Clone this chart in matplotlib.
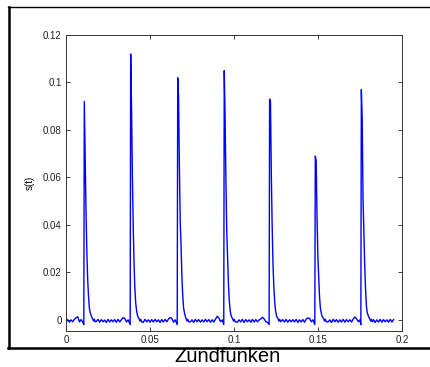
import numpy as np
import matplotlib
matplotlib.use("Agg")
import matplotlib.pyplot as plt
from matplotlib.lines import Line2D

plt.rcParams['font.family'] = ['Liberation Sans', 'DejaVu Sans']

# ---- data (values in units of 1e-3) ----
baseline_dt = 0.001
baseline = [
    -0.9, 0.1, -1.0, 0.0, -0.8, 0.2, 0.9, 1.3, -0.9, 0.1,
    -1.0, 0.0, -0.8, 0.2, -1.1, 0.1, -0.9, 0.0, -0.7, 0.2,
    -1.0, 0.1, -0.8, -0.1, -1.1, 0.2, -0.9, 0.0, -0.8, 0.1,
    -1.0, 0.2, -0.9, 0.1, 0.9, 0.6, -0.9, 0.0, -1.0, 0.1,
    -0.8, 0.2, -1.0, 0.0, -0.9, 0.1, -1.1, 0.2, -0.8, 0.0,
    -1.0, 0.1, -0.9, 0.2, -0.8, 0.0, -1.1, 0.1, -0.9, 0.2,
    -0.8, 0.3, 1.0, 0.6, -1.0, 0.0, -1.1, 0.1, -0.9, 0.0,
    -0.8, 0.2, -1.0, 0.1, -0.9, 0.0, -1.1, 0.2, -0.8, 0.1,
    -1.0, 0.0, -0.9, 0.2, -0.8, 0.1, -1.0, 0.0, -0.9, 0.3,
    1.5, 0.8, -0.8, 0.0, -1.2, 0.1, -0.9, 0.0, -1.0, 0.2,
    -0.8, 0.1, -1.0, 0.0, -0.9, 0.2, -1.1, 0.1, -0.8, 0.0,
    -1.0, 0.2, -0.9, 0.1, -0.8, 0.0, 0.4, 1.1, 0.3, -0.8,
    -1.1, 0.0, -0.9, 0.1, -1.0, 0.2, -0.8, 0.0, -1.1, 0.1,
    -0.9, 0.2, -1.0, 0.0, -0.8, 0.1, -0.9, 0.2, -1.1, 0.0,
    -0.9, 0.1, -1.0, 0.3, 0.8, 0.6, -0.8, 0.0, -1.1, 0.1,
    -0.9, 0.0, -1.0, 0.2, -0.8, 0.1, -0.9, 0.0, -1.1, 0.2,
    -0.8, 0.1, -1.0, 0.0, -0.9, 0.2, -1.0, 0.1, -0.8, 0.0,
    -0.9, 0.4, 1.2, 0.4, -0.8, 0.0, -1.1, 0.1, -0.9, 0.0,
    -1.0, 0.2, -0.8, 0.1, -1.1, 0.0, -0.9, 0.2, -1.0, 0.1,
    -0.8, 0.0, -1.0, 0.2, -0.9, 0.1,
]

pulse_times = [0.0109, 0.0385, 0.0665, 0.0942, 0.1212, 0.1484, 0.1758]
pulse_dt = 0.0005
pre_dip = -2.0
pulse_decays = [
    [92, 70, 46, 29, 17, 10, 5, 3, 2, 1, 0.5, -0.5, 0.2, -0.8],
    [112, 90, 61, 40, 24, 13, 7, 4, 2, 1, 0.5, -0.5, 0.2, -0.8],
    [102, 94, 64, 41, 31, 18, 10, 5, 3, 1.5, 0.5, -0.5, 0.2, -0.8],
    [105, 85, 58, 37, 26, 15, 8, 4, 2, 1, 0.5, -0.5, 0.2, -0.8],
    [93, 92, 62, 40, 24, 14, 8, 4, 2, 1, 0.5, -0.5, 0.2, -0.8],
    [69, 67, 44, 27, 18, 10, 5, 3, 1.5, 1, 0.5, -0.5, 0.2, -0.8],
    [97, 85, 51, 37, 23, 13, 6, 3, 2, 1, 0.5, -0.5, 0.2, -0.8],
]

x_ticks = [0, 0.05, 0.1, 0.15, 0.2]
x_ticklabels = ['0', '0.05', '0.1', '0.15', '0.2']
y_ticks = [0, 0.02, 0.04, 0.06, 0.08, 0.1, 0.12]
y_ticklabels = ['0', '0.02', '0.04', '0.06', '0.08', '0.1', '0.12']

# ---- assemble trace ----
tb = np.arange(len(baseline)) * baseline_dt
sb = np.array(baseline) * 1e-3
keep = np.ones(len(tb), bool)
tp_all, sp_all = [], []
for tp, dec in zip(pulse_times, pulse_decays):
    keep &= ~((tb > tp - 0.0006) & (tb < tp + len(dec) * pulse_dt))
    tp_all.append(tp - 0.0003)
    sp_all.append(pre_dip * 1e-3)
    for k, v in enumerate(dec):
        tp_all.append(tp + k * pulse_dt)
        sp_all.append(v * 1e-3)
t = np.concatenate([tb[keep], tp_all])
s = np.concatenate([sb[keep], sp_all])
order = np.argsort(t, kind='stable')
t, s = t[order], s[order]

# ---- figure ----
fig = plt.figure(figsize=(4.30, 3.67), dpi=100)
fig.patch.set_facecolor('white')
W, H = 430, 367
ax = fig.add_axes([66 / W, 1 - 331 / H, (402 - 66) / W, (331 - 35) / H])
ax.plot(t, s, color='#0000ff', linewidth=1.0)
ax.set_xlim(0, 0.2)
ax.set_ylim(-0.0047, 0.12)
ax.set_xticks(x_ticks)
ax.set_xticklabels(x_ticklabels)
ax.set_yticks(y_ticks)
ax.set_yticklabels(y_ticklabels)
ax.tick_params(direction='in', length=3, width=0.6, labelsize=7,
               top=True, right=True, colors='#222222', pad=3)
for sp in ax.spines.values():
    sp.set_linewidth(0.7)
    sp.set_color('#333333')
ax.set_ylabel('s(t)', fontsize=7, labelpad=6)

# outer frame
fig.add_artist(Line2D([8.8 / W, 8.8 / W], [1 - 7 / H, 1 - 348 / H],
                      transform=fig.transFigure, color='black', lw=1.8))
fig.add_artist(Line2D([8 / W, 1.0], [1 - 348 / H, 1 - 348 / H],
                      transform=fig.transFigure, color='black', lw=1.8))
fig.add_artist(Line2D([8 / W, 1.0], [1 - 7 / H, 1 - 7 / H],
                      transform=fig.transFigure, color='black', lw=1.0))

fig.text(228 / W, 1 - 356.5 / H, 'Zündfunken', ha='center', va='center',
         fontsize=14.5, color='black')

fig.savefig('out.png', dpi=100)
